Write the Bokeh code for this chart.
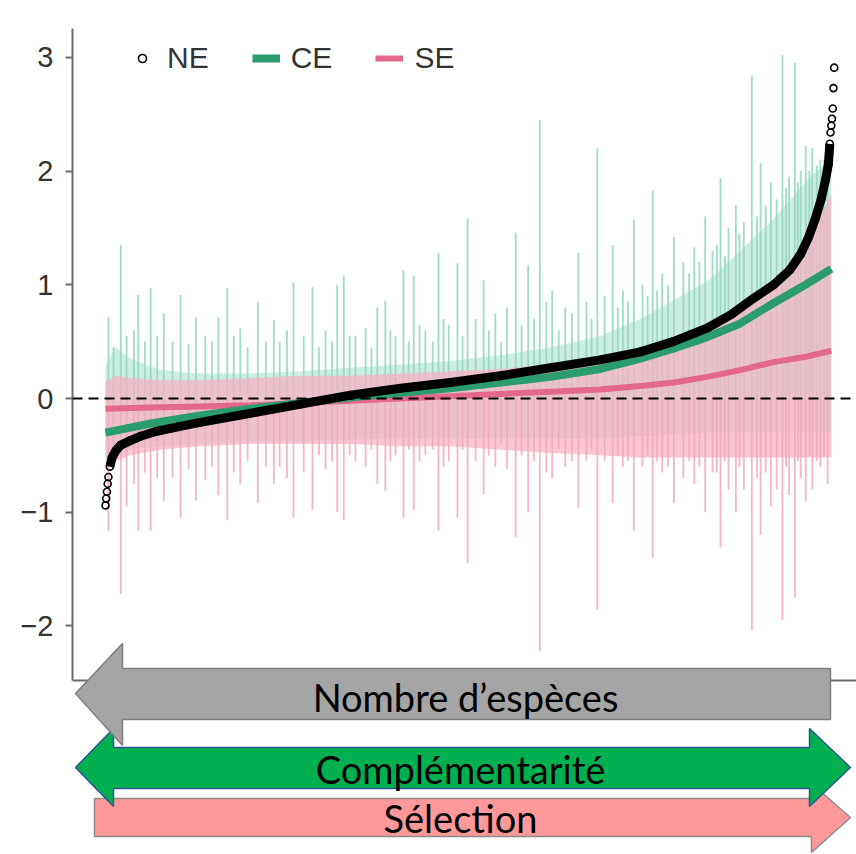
from bokeh.plotting import figure
from bokeh.models import (Range1d, FixedTicker, Span, PolyAnnotation, Label,
                          Legend, LegendItem, ColumnDataSource)
from bokeh.embed import file_html
from bokeh.resources import INLINE

# ---------------- data ----------------
# NE (net effect), sorted, with its rank
ne_rank = [1, 2, 3, 4, 5, 7, 10, 15, 22, 35, 50, 70, 100, 131, 200, 269, 337, 406,
           474, 543, 612, 680, 735, 780, 827, 860, 890, 918, 940, 955, 966, 975,
           983, 989, 993, 994, 995, 996, 997, 998, 999, 1000, 1001]
ne_value = [-0.94, -0.88, -0.82, -0.75, -0.69, -0.60, -0.52, -0.46, -0.41, -0.37,
            -0.33, -0.29, -0.25, -0.21, -0.13, -0.05, 0.03, 0.09, 0.14, 0.20, 0.27,
            0.34, 0.41, 0.50, 0.62, 0.74, 0.88, 1.00, 1.13, 1.27, 1.42, 1.58, 1.75,
            1.92, 2.06, 2.15, 2.24, 2.34, 2.40, 2.46, 2.55, 2.73, 2.91]

# smoothed CE and SE along the NE rank
fit_rank = [1, 63, 131, 200, 269, 337, 406, 474, 543, 612, 680, 735, 781, 827,
            872, 918, 964, 997]
ce_fit = [-0.30, -0.22, -0.15, -0.09, -0.04, 0.01, 0.05, 0.09, 0.14, 0.19, 0.26,
          0.35, 0.44, 0.54, 0.66, 0.84, 1.01, 1.14]
se_fit = [-0.09, -0.08, -0.07, -0.06, -0.04, -0.02, 0.00, 0.02, 0.04, 0.06, 0.08,
          0.11, 0.14, 0.19, 0.25, 0.32, 0.37, 0.42]

# dense cloud of the individual CE / SE values (lower and upper envelope)
band_rank = [1, 15, 35, 76, 131, 200, 269, 337, 406, 474, 543, 612, 680, 735, 790,
             831, 872, 913, 941, 968, 997]
ce_core_lo = [-0.55, -0.50, -0.45, -0.42, -0.40, -0.38, -0.38, -0.36, -0.35, -0.35,
              -0.35, -0.35, -0.35, -0.33, -0.32, -0.30, -0.30, -0.30, -0.30, -0.30, -0.30]
ce_core_hi = [0.30, 0.45, 0.35, 0.25, 0.22, 0.22, 0.24, 0.27, 0.30, 0.33, 0.38,
              0.45, 0.55, 0.70, 0.90, 1.05, 1.30, 1.55, 1.75, 1.95, 2.10]
se_core_lo = [-0.52, -0.55, -0.50, -0.45, -0.42, -0.40, -0.40, -0.40, -0.42, -0.42,
              -0.45, -0.48, -0.50, -0.52, -0.52, -0.52, -0.52, -0.52, -0.52, -0.52, -0.52]
se_core_hi = [0.15, 0.20, 0.18, 0.16, 0.16, 0.18, 0.20, 0.20, 0.22, 0.24, 0.26,
              0.30, 0.34, 0.40, 0.50, 0.62, 0.78, 0.97, 1.13, 1.40, 1.80]

# individual extreme values (large spikes): rank, CE, SE
spike_rank = [5, 22, 30, 46, 63, 81, 93, 104, 125, 138, 156, 168, 186, 210, 221, 232,
              259, 273, 285, 303, 319, 328, 344, 358, 374, 385, 399, 410, 424, 440,
              458, 472, 484, 498, 509, 520, 536, 552, 564, 581, 597, 606, 614, 632,
              650, 661, 676, 686, 697, 711, 726, 738, 752, 765, 781, 794, 809, 824,
              834, 845, 856, 866, 877, 888, 900, 914, 922, 930, 939, 947, 955, 962,
              971, 982, 992]
spike_ce = [0.71, 1.35, 0.55, 0.91, 0.97, 0.75, 0.50, 0.91, 0.71, 0.55, 0.71, 0.97,
            0.62, 0.85, 0.50, 0.69, 1.02, 0.55, 0.98, 0.60, 1.00, 1.08, 0.55, 0.62,
            0.80, 0.86, 0.55, 1.13, 1.08, 0.60, 1.28, 0.65, 1.19, 1.58, 0.70, 1.04,
            0.75, 0.80, 1.46, 1.17, 2.45, 0.85, 0.95, 0.80, 1.28, 0.85, 2.20, 0.90,
            1.35, 0.95, 1.57, 1.00, 1.83, 1.10, 1.42, 1.20, 1.33, 1.60, 1.30, 1.94,
            1.50, 1.70, 1.55, 2.84, 2.07, 1.90, 1.75, 3.02, 1.95, 2.95, 2.00, 2.22,
            2.20, 2.10, 2.25]
spike_se = [-1.16, -1.72, -0.95, -1.16, -1.16, -0.90, -0.70, -1.05, -0.90, -0.72,
            -0.85, -1.07, -0.75, -0.92, -0.60, -0.75, -1.05, -0.65, -0.98, -0.62,
            -1.00, -1.07, -0.55, -0.60, -0.75, -0.81, -0.50, -1.05, -0.98, -0.50,
            -1.16, -0.55, -1.05, -1.45, -0.55, -0.84, -0.60, -0.62, -1.22, -1.00,
            -2.22, -0.65, -0.70, -0.60, -0.96, -0.55, -1.86, -0.55, -0.92, -0.60,
            -1.16, -0.60, -1.40, -0.65, -0.92, -0.70, -0.75, -1.00, -0.65, -1.31,
            -0.80, -1.00, -0.80, -2.04, -1.20, -0.95, -0.80, -1.95, -0.85, -1.75,
            -0.70, -0.90, -0.80, -0.60, -0.75]

# smaller individual values (minor spikes): rank, CE, SE
minor_rank = [12, 40, 55, 72, 115, 147, 177, 196, 240, 250, 294, 312, 336, 366, 392,
              417, 432, 450, 465, 491, 527, 544, 572, 589, 623, 641, 668, 704, 718,
              745, 758, 773, 802, 816, 840, 851, 871, 895, 907, 935, 951, 967, 977, 987]
minor_ce = [0.45, 0.60, 0.50, 0.55, 0.48, 0.50, 0.55, 0.45, 0.50, 0.60, 0.45, 0.50,
            0.55, 0.45, 0.60, 0.50, 0.65, 0.50, 0.70, 0.55, 0.60, 0.50, 0.65, 0.70,
            0.60, 0.75, 0.70, 0.80, 0.85, 0.90, 0.95, 1.00, 1.10, 1.20, 1.35, 1.25,
            1.45, 1.60, 1.70, 1.85, 1.90, 2.00, 2.05, 2.10]
minor_se = [-0.60, -0.75, -0.65, -0.70, -0.62, -0.60, -0.65, -0.55, -0.60, -0.70,
            -0.50, -0.55, -0.50, -0.45, -0.55, -0.45, -0.55, -0.45, -0.60, -0.45,
            -0.50, -0.40, -0.50, -0.55, -0.45, -0.55, -0.45, -0.50, -0.55, -0.50,
            -0.55, -0.60, -0.55, -0.60, -0.65, -0.55, -0.60, -0.70, -0.65, -0.60,
            -0.55, -0.50, -0.55, -0.50]

y_ticks = [-2, -1, 0, 1, 2, 3]
legend_labels = ["NE", "CE", "SE"]
arrow_texts = ["Nombre d\u2019esp\u00e8ces", "Compl\u00e9mentarit\u00e9", "S\u00e9lection"]

# ---------------- layout ----------------
W, H = 856, 854
LEFT = 72
PX_PER_RANK = 0.7287
PX_PER_UNIT = 113.7
X_ORIGIN_PX = 105   # page x of rank 1
Y_ZERO_PX = 398     # page y of value 0


def px2x(px):
    return (px - X_ORIGIN_PX) / PX_PER_RANK + 1


def px2y(py):
    return (Y_ZERO_PX - py) / PX_PER_UNIT


FRAME_L, FRAME_R, FRAME_T, FRAME_B = LEFT, W, 0, H

p = figure(width=W, height=H, output_backend="svg", toolbar_location=None,
           x_range=Range1d(px2x(FRAME_L), px2x(FRAME_R)),
           y_range=Range1d(px2y(FRAME_B), px2y(FRAME_T)),
           min_border_left=LEFT, min_border_right=0, min_border_top=0,
           min_border_bottom=0, x_axis_location=None)
p.grid.visible = False
p.outline_line_color = None
p.background_fill_color = "white"
p.border_fill_color = "white"

AX_COL = "#6b6b6b"
ax = p.yaxis[0]
ax.ticker = FixedTicker(ticks=y_ticks)
ax.bounds = (px2y(680), px2y(28))
ax.major_label_overrides = {t: ("\u2212" + str(abs(t)) if t < 0 else str(t)) for t in y_ticks}
ax.axis_line_color = AX_COL
ax.axis_line_width = 2
ax.major_tick_line_color = AX_COL
ax.major_tick_line_width = 2
ax.major_tick_out = 7
ax.major_tick_in = 0
ax.minor_tick_line_color = None
ax.major_label_text_font = "Liberation Sans"
ax.major_label_text_font_size = "29px"
ax.major_label_text_color = "#333333"
ax.major_label_standoff = 12

MINT = "#9edcc6"
MINT_SPIKE = "#93d8bf"
PINK = "#f6b2c3"
PINK_SPIKE = "#f3a8ba"
GREEN = "#2b9c6d"
ROSE = "#e4678c"

# dense clouds + spikes
p.varea(x=band_rank, y1=ce_core_lo, y2=ce_core_hi, fill_color=MINT, fill_alpha=0.5)

spikes = ColumnDataSource(dict(r=spike_rank, ce=spike_ce, se=spike_se,
                               base=[0.0] * len(spike_rank)))
minor = ColumnDataSource(dict(r=minor_rank, ce=minor_ce, se=minor_se,
                              base=[0.0] * len(minor_rank)))
for src in (spikes, minor):
    p.segment(x0="r", y0="base", x1="r", y1="ce", source=src,
              line_color=MINT_SPIKE, line_width=1.8, line_alpha=0.9)
p.varea(x=band_rank, y1=se_core_lo, y2=se_core_hi, fill_color=PINK, fill_alpha=0.72)
for src in (spikes, minor):
    p.segment(x0="r", y0="base", x1="r", y1="se", source=src,
              line_color=PINK_SPIKE, line_width=1.8, line_alpha=0.85)

# smoothed lines
se_line = p.line(fit_rank, se_fit, line_color=ROSE, line_width=6)
ce_line = p.line(fit_rank, ce_fit, line_color=GREEN, line_width=8)

# NE: dense part as a thick line, every point as an open circle
dense = [(r, v) for r, v in zip(ne_rank, ne_value) if -0.62 <= v <= 2.25]
p.line([d[0] for d in dense], [d[1] for d in dense], line_color="black", line_width=9)
ne_pts = p.scatter(ne_rank, ne_value, marker="circle", size=7, fill_color=None,
                   line_color="black", line_width=1.6)

# axis line (bottom) and zero line
p.add_layout(Span(location=px2y(680), dimension="width", line_color=AX_COL, line_width=2))
p.add_layout(Span(location=0, dimension="width", line_color="black", line_width=2,
                  line_dash="10 6"))

legend = Legend(items=[LegendItem(label=legend_labels[0], renderers=[ne_pts]),
                       LegendItem(label=legend_labels[1], renderers=[ce_line]),
                       LegendItem(label=legend_labels[2], renderers=[se_line])],
                orientation="horizontal", location=(128 - FRAME_L, FRAME_B - 75),
                border_line_color=None, background_fill_alpha=0, padding=0, margin=0,
                spacing=43, glyph_width=28, glyph_height=20, label_standoff=11,
                label_text_font="Liberation Sans", label_text_font_size="30px",
                label_text_color="#333333")
p.add_layout(legend)


# ---------------- arrows ----------------
def poly(pts, fill, line):
    return PolyAnnotation(xs=[px2x(a) for a, b in pts], ys=[px2y(b) for a, b in pts],
                          fill_color=fill, fill_alpha=1.0, line_color=line,
                          line_width=1.5, line_alpha=1.0)


pink_pts = [(94, 798), (811, 798), (811, 783), (850, 817), (811, 852), (811, 836), (94, 836)]
green_pts = [(75, 767), (113, 728), (113, 747), (809, 747), (809, 728), (850, 767),
             (809, 806), (809, 788), (113, 788), (113, 806)]
gray_pts = [(75, 693), (122, 643), (122, 668), (830, 668), (830, 719), (122, 719), (122, 745)]

p.add_layout(poly(pink_pts, "#ff9999", "#8c8c8c"))
p.add_layout(poly(green_pts, "#00b050", "#2f5597"))
p.add_layout(poly(gray_pts, "#a5a5a5", "#7f7f7f"))

for txt, cx, cy in zip(arrow_texts, [465, 460, 460], [696, 768, 817]):
    p.add_layout(Label(x=px2x(cx), y=px2y(cy), text=txt, text_align="center",
                       text_baseline="middle", text_font="Lato",
                       text_font_size="38px", text_color="black"))

open("out.html", "w").write(file_html(p, INLINE))
